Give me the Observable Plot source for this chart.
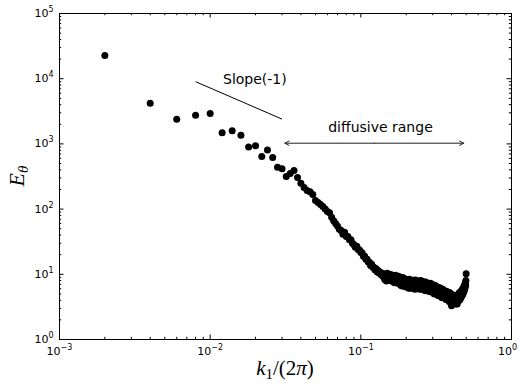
<!DOCTYPE html>
<html>
<head>
<meta charset="utf-8">
<script src="https://cdn.jsdelivr.net/npm/d3@7"></script>
<script src="https://cdn.jsdelivr.net/npm/@observablehq/plot@0.6"></script>
<style>
  html, body { margin: 0; padding: 0; background: #fff; }
  #chart { width: 519px; height: 383px; }
</style>
</head>
<body>
<div id="chart"></div>
<script>
// Wavenumber k1/(2π)
const k1 = [
  0.002,0.004,0.006,0.008,0.010,0.012,0.014,0.016,0.018,0.020,
  0.022,0.024,0.026,0.028,0.030,0.032,0.034,0.036,0.038,0.040,
  0.042,0.044,0.046,0.048,0.050,0.052,0.054,0.056,0.058,0.060,
  0.062,0.064,0.066,0.068,0.070,0.072,0.074,0.076,0.078,0.080,
  0.082,0.084,0.086,0.088,0.090,0.092,0.094,0.096,0.098,0.100,
  0.102,0.104,0.106,0.108,0.110,0.112,0.114,0.116,0.118,0.120,
  0.122,0.124,0.126,0.128,0.130,0.132,0.134,0.136,0.138,0.140,
  0.142,0.144,0.146,0.148,0.150,0.152,0.154,0.156,0.158,0.160,
  0.162,0.164,0.166,0.168,0.170,0.172,0.174,0.176,0.178,0.180,
  0.182,0.184,0.186,0.188,0.190,0.192,0.194,0.196,0.198,0.200,
  0.202,0.204,0.206,0.208,0.210,0.212,0.214,0.216,0.218,0.220,
  0.222,0.224,0.226,0.228,0.230,0.232,0.234,0.236,0.238,0.240,
  0.242,0.244,0.246,0.248,0.250,0.252,0.254,0.256,0.258,0.260,
  0.262,0.264,0.266,0.268,0.270,0.272,0.274,0.276,0.278,0.280,
  0.282,0.284,0.286,0.288,0.290,0.292,0.294,0.296,0.298,0.300,
  0.302,0.304,0.306,0.308,0.310,0.312,0.314,0.316,0.318,0.320,
  0.322,0.324,0.326,0.328,0.330,0.332,0.334,0.336,0.338,0.340,
  0.342,0.344,0.346,0.348,0.350,0.352,0.354,0.356,0.358,0.360,
  0.362,0.364,0.366,0.368,0.370,0.372,0.374,0.376,0.378,0.380,
  0.382,0.384,0.386,0.388,0.390,0.392,0.394,0.396,0.398,0.400,
  0.402,0.404,0.406,0.408,0.410,0.412,0.414,0.416,0.418,0.420,
  0.422,0.424,0.426,0.428,0.430,0.432,0.434,0.436,0.438,0.440,
  0.442,0.444,0.446,0.448,0.450,0.452,0.454,0.456,0.458,0.460,
  0.462,0.464,0.466,0.468,0.470,0.472,0.474,0.476,0.478,0.480,
  0.482,0.484,0.486,0.488,0.490,0.492,0.494,0.496,0.498,0.500
];

// Spectrum E_θ
const Etheta = [
  22700,4210,2390,2750,2920,1480,1590,1360,900,935,
  640,805,620,440,415,316,352,391,305,250,
  215,193,185,168,135,126,118,110,100,92,
  88,75,66,60,55,49,47,41,44,38,
  38,34,34,30,28.5,26,27,24,23.5,21.5,
  21.5,19,19,17,17,15.4,15.3,13.7,14.2,12.8,
  12.8,11.7,12.3,10.9,11.4,10.5,10.8,9.9,10.4,9.3,
  10.2,8.3,9.6,7.9,10.4,8.6,9.3,8.0,9.9,8.4,
  9.6,7.6,9.0,7.4,9.7,8.0,8.6,7.3,9.3,7.8,
  8.8,6.8,8.2,6.6,8.9,7.2,7.9,6.5,8.5,7.0,
  8.3,6.3,7.7,6.1,8.4,6.8,7.4,6.1,8.0,6.6,
  8.1,6.1,7.5,5.9,8.2,6.6,7.2,6.0,7.8,6.4,
  7.9,6.0,7.4,5.9,8.0,6.5,7.1,5.9,7.7,6.3,
  7.6,5.8,7.1,5.6,7.6,6.2,6.8,5.7,7.3,6.0,
  7.2,5.5,6.8,5.4,7.3,5.9,6.5,5.4,7.0,5.8,
  6.8,5.1,6.3,5.0,6.8,5.5,6.1,5.1,6.5,5.4,
  6.3,4.8,5.9,4.7,6.3,5.2,5.7,4.7,6.1,5.0,
  5.9,4.4,5.5,4.4,5.9,4.8,5.3,4.4,5.6,4.7,
  5.5,4.2,5.2,4.1,5.5,4.5,4.9,4.1,5.3,4.4,
  5.2,3.9,4.8,3.8,5.2,4.2,4.6,3.9,4.9,3.3,
  4.8,3.7,4.5,3.6,4.8,3.9,4.3,3.6,4.6,3.9,
  4.7,3.6,4.4,3.5,4.7,3.8,4.2,3.5,4.5,3.8,
  4.9,3.9,4.6,4.0,5.2,4.2,4.8,4.1,5.3,4.5,
  5.5,4.5,5.2,4.7,5.8,4.9,5.5,5.0,6.2,5.3,
  6.3,5.5,6.6,5.9,7.0,6.2,7.4,6.8,8.0,10.2
];

// Annotations
const slopeK = [0.008, 0.03];
const slopeE = [9000, 2400];
const slopeLabel = {k: 0.0198, E: 9700, text: "Slope(-1)"};
const rangeK = [0.0313, 0.482];
const rangeE = 1025;
const rangeLabel = {k: 0.135, E: 1790, text: "diffusive range"};

// Axis ticks
const xMajor = [1e-3, 1e-2, 1e-1, 1];
const yMajor = [1, 10, 100, 1000, 10000, 100000];
const xLabel = "k1/(2π)";
const yLabel = "Eθ";

const points = k1.map((k, i) => ({k, E: Etheta[i]}));
const minors = (majors) => majors.slice(0, -1).flatMap(m => d3.range(2, 10).map(j => j * m));
const xMinor = minors(xMajor);
const yMinor = minors(yMajor);

const W = 519, H = 383, mL = 59, mR = 8, mT = 13, mB = 44;
const innerW = W - mL - mR, innerH = H - mT - mB;
const majLen = 4.5, minLen = 2.2;
const expFmt = d => "10^" + String(Math.round(Math.log10(d))).replace("-", "\u2212");
const rangeMid = Math.sqrt(rangeK[0] * rangeK[1]);

const svg = Plot.plot({
  width: W, height: H,
  marginLeft: mL, marginRight: mR, marginTop: mT, marginBottom: mB,
  style: {fontFamily: "DejaVu Sans", fontSize: "11px", background: "#fff", color: "#000", overflow: "visible"},
  x: {type: "log", domain: [1e-3, 1]},
  y: {type: "log", domain: [1, 1e5]},
  marks: [
    Plot.axisX({ticks: xMajor, tickSize: 0, tickPadding: 8, tickFormat: expFmt, label: null}),
    Plot.axisY({ticks: yMajor, tickSize: 0, tickPadding: 6, tickFormat: expFmt, label: null}),
    // inward ticks on all four sides
    Plot.tickX(xMajor, {x: d => d, insetTop: innerH - majLen, stroke: "#000"}),
    Plot.tickX(xMajor, {x: d => d, insetBottom: innerH - majLen, stroke: "#000"}),
    Plot.tickX(xMinor, {x: d => d, insetTop: innerH - minLen, stroke: "#000"}),
    Plot.tickX(xMinor, {x: d => d, insetBottom: innerH - minLen, stroke: "#000"}),
    Plot.tickY(yMajor, {y: d => d, insetRight: innerW - majLen, stroke: "#000"}),
    Plot.tickY(yMajor, {y: d => d, insetLeft: innerW - majLen, stroke: "#000"}),
    Plot.tickY(yMinor, {y: d => d, insetRight: innerW - minLen, stroke: "#000"}),
    Plot.tickY(yMinor, {y: d => d, insetLeft: innerW - minLen, stroke: "#000"}),
    Plot.frame({stroke: "#000", strokeWidth: 1}),
    Plot.dot(points, {x: "k", y: "E", r: 3.5, fill: "#000", stroke: null}),
    Plot.link([0], {x1: () => slopeK[0], y1: () => slopeE[0], x2: () => slopeK[1], y2: () => slopeE[1], stroke: "#000", strokeWidth: 1}),
    Plot.text([slopeLabel], {x: "k", y: "E", text: "text", fontSize: 14, fill: "#000", textAnchor: "middle", lineAnchor: "middle"}),
    Plot.arrow([0], {x1: () => rangeMid, y1: () => rangeE, x2: () => rangeK[0], y2: () => rangeE, stroke: "#222", strokeWidth: 1, headLength: 7, headAngle: 55}),
    Plot.arrow([0], {x1: () => rangeMid, y1: () => rangeE, x2: () => rangeK[1], y2: () => rangeE, stroke: "#222", strokeWidth: 1, headLength: 7, headAngle: 55}),
    Plot.text([rangeLabel], {x: "k", y: "E", text: "text", fontSize: 14, fill: "#000", textAnchor: "middle", lineAnchor: "middle"})
  ]
});

const s = d3.select(svg);
// superscript exponents in tick labels
s.selectAll("text").each(function () {
  const m = /^10\^(.+)$/.exec(this.textContent);
  if (!m) return;
  const t = d3.select(this);
  t.text("10");
  t.append("tspan").attr("dy", "-5").attr("font-size", "8px").text(m[1]);
});
// keep the rightmost x tick label inside the figure, as in the reference
const xTickTexts = s.selectAll('g[aria-label="x-axis tick label"] text').nodes();
if (xTickTexts.length) d3.select(xTickTexts[xTickTexts.length - 1]).attr("dx", -4);

// x-axis label k_1/(2π)
const xl = s.append("text")
  .attr("x", mL + innerW / 2).attr("y", 375)
  .attr("text-anchor", "middle")
  .attr("font-family", "Liberation Serif").attr("font-size", 21).attr("fill", "#000");
xl.append("tspan").attr("font-style", "italic").text(xLabel[0]);
xl.append("tspan").attr("font-size", 15).attr("dy", 4).text(xLabel[1]);
xl.append("tspan").attr("dy", -4).text(xLabel.slice(2, 5));
xl.append("tspan").attr("font-style", "italic").text(xLabel[5]);
xl.append("tspan").text(xLabel[6]);

// y-axis label E_θ
const yl = s.append("text")
  .attr("transform", `translate(24,${mT + innerH / 2}) rotate(-90)`)
  .attr("text-anchor", "middle")
  .attr("font-family", "Liberation Serif").attr("font-size", 22).attr("fill", "#000");
yl.append("tspan").attr("font-style", "italic").text(yLabel[0]);
yl.append("tspan").attr("font-style", "italic").attr("font-size", 15).attr("dy", 4).text(yLabel[1]);

document.getElementById("chart").appendChild(svg);
</script>
</body>
</html>
